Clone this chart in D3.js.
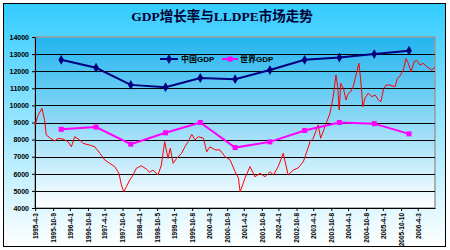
<!DOCTYPE html>
<html>
<head>
<meta charset="utf-8">
<script src="https://cdnjs.cloudflare.com/ajax/libs/d3/7.8.5/d3.min.js"></script>
<style>
body { margin: 0; background: #fff; }
text { font-family: "Liberation Sans", Arial, "Noto Sans CJK SC", sans-serif; }
</style>
</head>
<body>
<div id="chart"></div>
<script>
var w = 450;
var h = 250;
var plotLeft = 35, plotRight = 435, plotTop = 37, plotBottom = 208;

var titleText = "GDP增长率与LLDPE市场走势";
var seriesNames = ["中国GDP", "世界GDP"];

var yTicks = [4000, 5000, 6000, 7000, 8000, 9000, 10000, 11000, 12000, 13000, 14000];
var xTickLabels = ["1995-4-3", "1995-10-9", "1996-4-1", "1996-10-8", "1997-4-1", "1997-10-6",
	"1998-4-1", "1998-10-5", "1999-4-1", "1999-10-8", "2000-4-3", "2000-10-9", "2001-4-2",
	"2001-10-8", "2002-4-1", "2002-10-8", "2003-4-1", "2003-10-8", "2004-4-1", "2004-10-8",
	"2005-4-1", "2005-10-10", "2006-4-3"];

// annual GDP growth (%), plotted against a hidden secondary axis
var gdpYears = [1996, 1997, 1998, 1999, 2000, 2001, 2002, 2003, 2004, 2005, 2006];
var chinaGdp = [10.0, 9.3, 7.8, 7.6, 8.4, 8.3, 9.1, 10.0, 10.2, 10.5, 10.8];
var worldGdp = [3.9, 4.1, 2.6, 3.6, 4.5, 2.3, 2.8, 3.8, 4.5, 4.4, 3.5];

// LLDPE price (yuan/ton)
var lldpeDates = ["1995-04-01","1995-05-02","1995-06-13","1995-07-11","1995-07-28","1995-09-03",
	"1995-10-25","1995-11-29","1996-01-21","1996-03-12","1996-04-17","1996-05-22","1996-07-14",
	"1996-08-18","1996-10-27","1996-12-19","1997-02-10","1997-04-02","1997-05-24","1997-07-16",
	"1997-08-30","1997-09-24","1997-10-19","1997-11-16","1997-12-21","1998-01-25","1998-02-28",
	"1998-04-21","1998-06-13","1998-07-18","1998-08-22","1998-10-14","1998-11-18","1998-12-23",
	"1999-01-27","1999-02-20","1999-03-22","1999-04-27","1999-06-19","1999-07-23","1999-08-27",
	"1999-10-03","1999-11-07","1999-12-11","2000-02-03","2000-03-08","2000-04-12","2000-06-04",
	"2000-07-25","2000-09-17","2000-11-09","2001-01-01","2001-02-05","2001-02-22","2001-03-20",
	"2001-04-14","2001-06-06","2001-07-28","2001-09-20","2001-11-11","2002-01-03","2002-02-07",
	"2002-03-29","2002-05-21","2002-07-12","2002-09-04","2002-10-26","2002-12-18","2003-01-23",
	"2003-02-27","2003-04-01","2003-05-23","2003-06-18","2003-08-02","2003-09-24","2003-10-28",
	"2003-11-26","2003-12-14","2003-12-30","2004-01-15","2004-02-12","2004-03-10","2004-04-04",
	"2004-04-28","2004-05-25","2004-06-23","2004-07-24","2004-08-12","2004-09-03","2004-09-26",
	"2004-10-30","2004-12-06","2005-01-10","2005-02-14","2005-03-12","2005-04-06","2005-05-04",
	"2005-06-15","2005-08-07","2005-09-01","2005-09-29","2005-11-03","2005-12-01","2005-12-25",
	"2006-01-22","2006-02-24","2006-03-22","2006-04-26","2006-05-30","2006-07-05","2006-08-27",
	"2006-10-01"];
var lldpePrice = [8850,9400,9830,9150,8270,8110,
	7920,8070,8030,7880,7580,8170,7980,
	7780,7680,7580,7200,6810,6610,6420,
	6030,5350,4950,5250,5640,5930,6320,
	6470,6280,6090,6220,5930,6510,7880,
	6900,7490,6610,6900,7200,7580,7880,
	8310,7980,8170,8080,7290,7580,7400,
	7400,7000,6810,6120,5740,4950,5350,
	5740,6420,5830,6030,5830,6120,5930,
	6420,7200,5930,6220,6350,6710,7290,
	7880,8080,8860,8080,8750,9540,10510,
	11780,11090,9730,11290,11000,10320,10700,
	10800,11090,11780,12460,11490,9930,10420,
	10710,10510,10610,10320,10220,10900,11190,
	11190,11090,11580,11720,12070,12750,12460,
	11970,12550,12650,12360,12460,12270,12070,
	12230];

var parseDate = d3.timeParse("%Y-%m-%d");

function drawChart(){

	var lldpe = lldpeDates.map(function(d, i){
		return {date: parseDate(d), value: lldpePrice[i]};
	});
	var china = gdpYears.map(function(y, i){ return {date: new Date(y, 0, 1), value: chinaGdp[i]}; });
	var world = gdpYears.map(function(y, i){ return {date: new Date(y, 0, 1), value: worldGdp[i]}; });

	var xScale = d3.scaleTime()
		.domain([parseDate("1995-04-01"), parseDate("2006-10-01")])
		.range([plotLeft, plotRight]);

	var yScale = d3.scaleLinear()
		.domain([4000, 14000])
		.range([plotBottom, plotTop]);

	// secondary axis for GDP (not shown)
	var y2Scale = d3.scaleLinear()
		.domain([-3, 12])
		.range([plotBottom, plotTop]);

	var svg = d3.select("#chart")
		.append("svg")
		.attr("width", w)
		.attr("height", h);

	var defs = svg.append("defs");
	var bg = defs.append("linearGradient").attr("id", "bgGrad")
		.attr("x1", 0).attr("y1", 0).attr("x2", 0).attr("y2", 1);
	bg.append("stop").attr("offset", "0%").attr("stop-color", "#33ccff");
	bg.append("stop").attr("offset", "100%").attr("stop-color", "#ffffff");

	var pg = defs.append("linearGradient").attr("id", "plotGrad")
		.attr("x1", 0).attr("y1", 0).attr("x2", 0).attr("y2", 1);
	pg.append("stop").attr("offset", "0%").attr("stop-color", "#22b4ee");
	pg.append("stop").attr("offset", "100%").attr("stop-color", "#ffffff");

	// chart frame
	svg.append("rect")
		.attr("x", 3.5).attr("y", 3.5)
		.attr("width", 442).attr("height", 243)
		.attr("fill", "url(#bgGrad)")
		.attr("stroke", "#000")
		.attr("stroke-width", 1);

	svg.append("text")
		.attr("x", 222)
		.attr("y", 21)
		.attr("text-anchor", "middle")
		.style("font-family", "'Liberation Serif', 'Noto Sans CJK SC', serif")
		.style("font-size", "13.5px")
		.style("font-weight", "bold")
		.attr("fill", "#000033")
		.text(titleText);

	// plot area
	svg.append("rect")
		.attr("x", plotLeft).attr("y", plotTop)
		.attr("width", plotRight - plotLeft).attr("height", plotBottom - plotTop)
		.attr("fill", "url(#plotGrad)")
		.attr("stroke", "#9a9a9a")
		.attr("stroke-width", 1.5);

	// gridlines
	svg.append("g")
		.selectAll("line")
		.data(yTicks.filter(function(d){ return d > 4000 && d < 14000; }))
		.enter().append("line")
		.attr("x1", plotLeft)
		.attr("x2", plotRight)
		.attr("y1", function(d){ return Math.round(yScale(d)) + 0.5; })
		.attr("y2", function(d){ return Math.round(yScale(d)) + 0.5; })
		.attr("stroke", "#000")
		.attr("stroke-width", 1);

	var yAxis = d3.axisLeft(yScale)
		.tickValues(yTicks)
		.tickFormat(d3.format("d"))
		.tickSize(3)
		.tickSizeOuter(0)
		.tickPadding(3);

	var gy = svg.append("g")
		.attr("transform", "translate(" + plotLeft + ",0)")
		.call(yAxis);
	gy.selectAll("text")
		.style("font-size", "7px")
		.style("font-weight", "bold")
		.attr("fill", "#000");

	var xAxis = d3.axisBottom(xScale)
		.tickValues(xTickLabels.map(function(d){ return parseDate(d); }))
		.tickFormat(function(d, i){ return xTickLabels[i]; })
		.tickSize(3)
		.tickSizeOuter(0);

	var gx = svg.append("g")
		.attr("transform", "translate(0," + plotBottom + ")")
		.call(xAxis);
	gx.selectAll("text")
		.attr("transform", "rotate(-90)")
		.attr("x", -5)
		.attr("y", 0)
		.attr("dy", "0.35em")
		.style("text-anchor", "end")
		.style("font-size", "6.5px")
		.style("font-weight", "bold")
		.attr("fill", "#000");

	// LLDPE price line
	var priceLine = d3.line()
		.x(function(d){ return xScale(d.date); })
		.y(function(d){ return yScale(d.value); });

	svg.append("path")
		.datum(lldpe)
		.attr("d", priceLine)
		.attr("fill", "none")
		.attr("stroke", "#ff0000")
		.attr("stroke-width", 1);

	var gdpLine = d3.line()
		.x(function(d){ return xScale(d.date); })
		.y(function(d){ return y2Scale(d.value); });

	// world GDP
	svg.append("path")
		.datum(world)
		.attr("d", gdpLine)
		.attr("fill", "none")
		.attr("stroke", "#ff00ff")
		.attr("stroke-width", 2);

	svg.append("g")
		.selectAll("rect")
		.data(world)
		.enter().append("rect")
		.attr("x", function(d){ return xScale(d.date) - 2.5; })
		.attr("y", function(d){ return y2Scale(d.value) - 2.5; })
		.attr("width", 5)
		.attr("height", 5)
		.attr("fill", "#ff00ff");

	// China GDP
	svg.append("path")
		.datum(china)
		.attr("d", gdpLine)
		.attr("fill", "none")
		.attr("stroke", "#000080")
		.attr("stroke-width", 2);

	svg.append("g")
		.selectAll("path")
		.data(china)
		.enter().append("path")
		.attr("d", d3.symbol().type(d3.symbolDiamond).size(28))
		.attr("transform", function(d){ return "translate(" + xScale(d.date) + "," + y2Scale(d.value) + ")"; })
		.attr("fill", "#000080");

	// legend
	var legend = svg.append("g").attr("transform", "translate(160,59)");
	legend.append("line").attr("x1", 0).attr("x2", 18).attr("y1", 0).attr("y2", 0)
		.attr("stroke", "#000080").attr("stroke-width", 2);
	legend.append("path")
		.attr("d", d3.symbol().type(d3.symbolDiamond).size(28))
		.attr("transform", "translate(9,0)")
		.attr("fill", "#000080");
	legend.append("text").attr("x", 21).attr("y", 3)
		.style("font-size", "8px").style("font-weight", "bold")
		.attr("fill", "#000")
		.text(seriesNames[0]);

	legend.append("line").attr("x1", 62).attr("x2", 78).attr("y1", 0).attr("y2", 0)
		.attr("stroke", "#ff00ff").attr("stroke-width", 2);
	legend.append("rect").attr("x", 67.5).attr("y", -2.5).attr("width", 5).attr("height", 5)
		.attr("fill", "#ff00ff");
	legend.append("text").attr("x", 80).attr("y", 3)
		.style("font-size", "8px").style("font-weight", "bold")
		.attr("fill", "#000")
		.text(seriesNames[1]);
}

drawChart();
</script>
</body>
</html>
